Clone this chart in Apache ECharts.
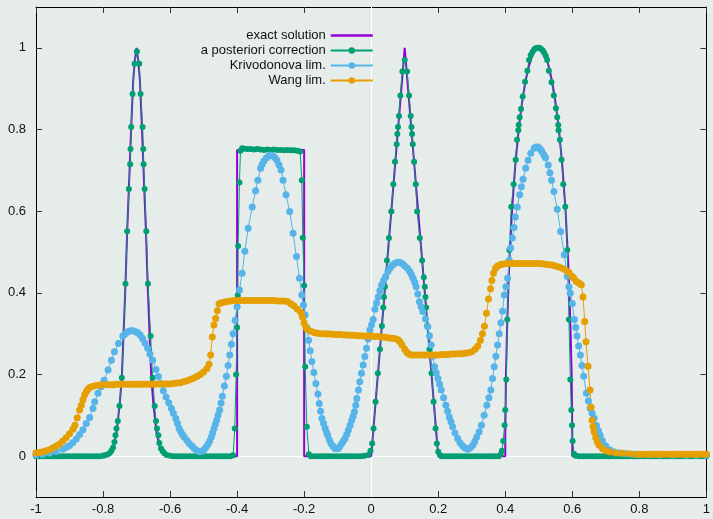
<!DOCTYPE html>
<html>
<head>
<meta charset="utf-8">
<title>chart</title>
<script src="https://cdn.jsdelivr.net/npm/echarts@6/dist/echarts.min.js"></script>
<style>
  html, body { margin: 0; padding: 0; background: #e5ecea; }
  .chart { width: 713px; height: 519px; }
</style>
</head>
<body>
<div class="chart"></div>
<script>
var seriesNames = ["exact solution", "a posteriori correction", "Krivodonova lim.", "Wang lim."];
var xTicks = [-1, -0.8, -0.6, -0.4, -0.2, 0, 0.2, 0.4, 0.6, 0.8, 1];
var yTicks = [0, 0.2, 0.4, 0.6, 0.8, 1];

// exact solution
var exact = [
  [-1, 0], [-0.8, 0], [-0.78, 0.007], [-0.77, 0.021], [-0.76, 0.055], [-0.75, 0.13], [-0.744, 0.192],
  [-0.733, 0.422], [-0.728, 0.551], [-0.723, 0.654], [-0.716, 0.806], [-0.71, 0.92], [-0.705, 0.97],
  [-0.7, 1.0], [-0.695, 0.97], [-0.69, 0.92], [-0.684, 0.806], [-0.677, 0.654], [-0.672, 0.551],
  [-0.667, 0.422], [-0.656, 0.192], [-0.65, 0.13], [-0.64, 0.055], [-0.63, 0.021], [-0.62, 0.007],
  [-0.6, 0], [-0.4, 0], [-0.4, 0.75], [-0.2, 0.75], [-0.2, 0], [0, 0], [0.1, 1], [0.2, 0], [0.4, 0],
  [0.4, 0.05], [0.402, 0.2], [0.405, 0.3], [0.41, 0.436], [0.42, 0.6], [0.43, 0.714], [0.44, 0.8],
  [0.45, 0.866], [0.46, 0.917], [0.47, 0.954], [0.48, 0.98], [0.49, 0.995], [0.5, 1.0], [0.51, 0.995],
  [0.52, 0.98], [0.53, 0.954], [0.54, 0.917], [0.55, 0.866], [0.56, 0.8], [0.57, 0.714], [0.58, 0.6],
  [0.59, 0.436], [0.595, 0.3], [0.598, 0.2], [0.6, 0.05], [0.6, 0], [1, 0]
];

// a posteriori correction
var posteriori = [
  [-1, 0], [-0.99, 0], [-0.98, 0], [-0.97, 0], [-0.96, 0], [-0.95, 0], [-0.94, 0], [-0.93, 0], [-0.92, 0],
  [-0.91, 0], [-0.9, 0], [-0.89, 0], [-0.88, 0], [-0.87, 0], [-0.86, 0], [-0.85, 0], [-0.84, 0], [-0.83, 0],
  [-0.82, 0], [-0.81, 0], [-0.8, 0.001], [-0.795, 0.002], [-0.787, 0.004], [-0.78, 0.008], [-0.775, 0.013],
  [-0.77, 0.021], [-0.766, 0.035], [-0.763, 0.051], [-0.76, 0.068], [-0.756, 0.086], [-0.751, 0.123],
  [-0.744, 0.192], [-0.733, 0.422], [-0.728, 0.551], [-0.723, 0.654], [-0.719, 0.715], [-0.718, 0.752],
  [-0.716, 0.806], [-0.712, 0.887], [-0.706, 0.961], [-0.699, 0.991], [-0.692, 0.961], [-0.688, 0.887],
  [-0.682, 0.806], [-0.68, 0.752], [-0.679, 0.715], [-0.676, 0.654], [-0.671, 0.551], [-0.666, 0.422],
  [-0.658, 0.294], [-0.652, 0.192], [-0.646, 0.123], [-0.642, 0.086], [-0.639, 0.068], [-0.635, 0.051],
  [-0.632, 0.032], [-0.627, 0.019], [-0.622, 0.012], [-0.617, 0.007], [-0.61, 0.003], [-0.6, 0.001],
  [-0.59, 0], [-0.58, 0], [-0.57, 0], [-0.56, 0], [-0.55, 0], [-0.54, 0], [-0.53, 0], [-0.52, 0],
  [-0.51, 0], [-0.5, 0], [-0.49, 0], [-0.48, 0], [-0.47, 0], [-0.46, 0], [-0.45, 0], [-0.44, 0],
  [-0.43, 0], [-0.42, 0], [-0.412, 0.002], [-0.407, 0.068], [-0.403, 0.2], [-0.4, 0.315], [-0.398, 0.394],
  [-0.397, 0.515], [-0.393, 0.67], [-0.39, 0.748], [-0.385, 0.754], [-0.38, 0.753], [-0.37, 0.752],
  [-0.36, 0.752], [-0.35, 0.751], [-0.34, 0.752], [-0.33, 0.751], [-0.32, 0.75], [-0.31, 0.751],
  [-0.3, 0.75], [-0.29, 0.751], [-0.28, 0.75], [-0.27, 0.75], [-0.26, 0.749], [-0.25, 0.75],
  [-0.24, 0.749], [-0.23, 0.749], [-0.22, 0.748], [-0.212, 0.746], [-0.207, 0.676], [-0.204, 0.535],
  [-0.2, 0.418], [-0.197, 0.219], [-0.192, 0.072], [-0.186, 0.005], [-0.18, 0], [-0.17, 0], [-0.16, 0],
  [-0.15, 0], [-0.14, 0], [-0.13, 0], [-0.12, 0], [-0.11, 0], [-0.1, 0], [-0.09, 0], [-0.08, 0],
  [-0.07, 0], [-0.06, 0], [-0.05, 0], [-0.04, 0], [-0.03, 0], [-0.02, 0.001], [-0.009, 0.003],
  [-0.002, 0.013], [0.003, 0.031], [0.007, 0.068], [0.013, 0.133], [0.02, 0.203], [0.026, 0.262],
  [0.032, 0.319], [0.036, 0.364], [0.038, 0.39], [0.041, 0.415], [0.043, 0.438], [0.047, 0.479],
  [0.053, 0.534], [0.06, 0.599], [0.066, 0.666], [0.071, 0.721], [0.076, 0.764], [0.078, 0.789],
  [0.08, 0.806], [0.083, 0.833], [0.087, 0.883], [0.093, 0.942], [0.1, 0.97], [0.107, 0.942],
  [0.113, 0.883], [0.118, 0.833], [0.12, 0.806], [0.122, 0.789], [0.124, 0.764], [0.128, 0.721],
  [0.133, 0.666], [0.137, 0.599], [0.145, 0.534], [0.152, 0.479], [0.157, 0.438], [0.16, 0.415],
  [0.162, 0.39], [0.164, 0.364], [0.167, 0.319], [0.174, 0.262], [0.18, 0.203], [0.186, 0.133],
  [0.192, 0.068], [0.196, 0.031], [0.2, 0.011], [0.206, 0.002], [0.21, 0], [0.22, 0], [0.23, 0],
  [0.24, 0], [0.25, 0], [0.26, 0], [0.27, 0], [0.28, 0], [0.29, 0], [0.3, 0], [0.31, 0], [0.32, 0],
  [0.33, 0], [0.34, 0], [0.35, 0], [0.36, 0], [0.37, 0], [0.38, 0], [0.386, 0.004], [0.39, 0.013],
  [0.394, 0.037], [0.398, 0.076], [0.4, 0.113], [0.403, 0.188], [0.406, 0.335], [0.412, 0.505],
  [0.418, 0.611], [0.425, 0.666], [0.431, 0.726], [0.435, 0.775], [0.439, 0.798], [0.44, 0.811],
  [0.443, 0.83], [0.447, 0.85], [0.452, 0.881], [0.459, 0.917], [0.466, 0.944], [0.471, 0.97],
  [0.476, 0.982], [0.481, 0.99], [0.486, 0.996], [0.491, 0.999], [0.496, 1.0], [0.501, 1.0],
  [0.506, 0.998], [0.511, 0.994], [0.516, 0.988], [0.521, 0.98], [0.525, 0.97], [0.53, 0.944],
  [0.538, 0.916], [0.545, 0.883], [0.551, 0.852], [0.555, 0.83], [0.558, 0.811], [0.559, 0.798],
  [0.563, 0.775], [0.568, 0.726], [0.573, 0.666], [0.579, 0.611], [0.585, 0.505], [0.59, 0.335],
  [0.594, 0.188], [0.597, 0.113], [0.599, 0.076], [0.601, 0.037], [0.605, 0.006], [0.61, 0.001],
  [0.62, 0], [0.63, 0], [0.64, 0], [0.65, 0], [0.66, 0], [0.67, 0], [0.68, 0], [0.69, 0], [0.7, 0],
  [0.71, 0], [0.72, 0], [0.73, 0], [0.74, 0], [0.75, 0], [0.76, 0], [0.77, 0], [0.78, 0], [0.79, 0],
  [0.8, 0], [0.81, 0], [0.82, 0], [0.83, 0], [0.84, 0], [0.85, 0], [0.86, 0], [0.87, 0], [0.88, 0],
  [0.89, 0], [0.9, 0], [0.91, 0], [0.92, 0], [0.93, 0], [0.94, 0], [0.95, 0], [0.96, 0], [0.97, 0],
  [0.98, 0], [0.99, 0], [1, 0]
];

// Krivodonova limiter
var krivodonova = [
  [-1, 0.003], [-0.98, 0.004], [-0.96, 0.007], [-0.94, 0.011], [-0.92, 0.017], [-0.91, 0.021],
  [-0.9, 0.026], [-0.89, 0.033], [-0.88, 0.042], [-0.87, 0.053], [-0.86, 0.065], [-0.85, 0.08],
  [-0.84, 0.095], [-0.83, 0.117], [-0.825, 0.133], [-0.815, 0.154], [-0.806, 0.17], [-0.797, 0.186],
  [-0.785, 0.211], [-0.775, 0.235], [-0.766, 0.256], [-0.754, 0.276], [-0.741, 0.294], [-0.733, 0.3],
  [-0.726, 0.305], [-0.718, 0.307], [-0.711, 0.307], [-0.703, 0.305], [-0.696, 0.302], [-0.689, 0.296],
  [-0.682, 0.288], [-0.675, 0.277], [-0.667, 0.264], [-0.66, 0.25], [-0.652, 0.235], [-0.642, 0.212],
  [-0.635, 0.195], [-0.627, 0.178], [-0.62, 0.16], [-0.612, 0.145], [-0.604, 0.131], [-0.596, 0.117],
  [-0.59, 0.105], [-0.583, 0.092], [-0.578, 0.08], [-0.573, 0.068], [-0.568, 0.06], [-0.563, 0.053],
  [-0.558, 0.047], [-0.55, 0.039], [-0.543, 0.031], [-0.535, 0.025], [-0.528, 0.019], [-0.52, 0.014],
  [-0.513, 0.011], [-0.506, 0.012], [-0.499, 0.016], [-0.493, 0.022], [-0.487, 0.029], [-0.482, 0.037],
  [-0.477, 0.047], [-0.473, 0.057], [-0.469, 0.068], [-0.465, 0.078], [-0.461, 0.088], [-0.457, 0.1],
  [-0.452, 0.113], [-0.448, 0.13], [-0.444, 0.147], [-0.438, 0.172], [-0.432, 0.196], [-0.427, 0.222],
  [-0.422, 0.248], [-0.417, 0.274], [-0.412, 0.3], [-0.406, 0.333], [-0.4, 0.366], [-0.393, 0.407],
  [-0.385, 0.448], [-0.377, 0.502], [-0.367, 0.558], [-0.355, 0.61], [-0.345, 0.65], [-0.338, 0.676],
  [-0.33, 0.705], [-0.325, 0.715], [-0.32, 0.723], [-0.313, 0.73], [-0.306, 0.735], [-0.3, 0.737],
  [-0.293, 0.735], [-0.287, 0.731], [-0.281, 0.724], [-0.275, 0.713], [-0.269, 0.701], [-0.263, 0.676],
  [-0.254, 0.64], [-0.243, 0.599], [-0.233, 0.546], [-0.223, 0.489], [-0.214, 0.436], [-0.207, 0.395],
  [-0.202, 0.37], [-0.197, 0.346], [-0.192, 0.315], [-0.187, 0.284], [-0.182, 0.258], [-0.177, 0.232],
  [-0.171, 0.205], [-0.165, 0.178], [-0.159, 0.152], [-0.155, 0.129], [-0.151, 0.11], [-0.147, 0.092],
  [-0.142, 0.08], [-0.137, 0.068], [-0.133, 0.058], [-0.13, 0.051], [-0.125, 0.04], [-0.12, 0.031],
  [-0.114, 0.024], [-0.108, 0.019], [-0.103, 0.018], [-0.098, 0.019], [-0.093, 0.024], [-0.088, 0.031],
  [-0.083, 0.037], [-0.078, 0.043], [-0.073, 0.053], [-0.068, 0.064], [-0.063, 0.076], [-0.058, 0.088],
  [-0.054, 0.098], [-0.05, 0.109], [-0.046, 0.125], [-0.043, 0.141], [-0.038, 0.162], [-0.034, 0.182],
  [-0.029, 0.203], [-0.024, 0.223], [-0.019, 0.244], [-0.014, 0.264], [-0.009, 0.287], [-0.004, 0.309],
  [0.001, 0.322], [0.006, 0.335], [0.011, 0.36], [0.016, 0.375], [0.021, 0.39], [0.026, 0.405],
  [0.031, 0.419], [0.037, 0.43], [0.043, 0.44], [0.05, 0.452], [0.056, 0.46], [0.063, 0.467],
  [0.07, 0.472], [0.078, 0.475], [0.085, 0.475], [0.093, 0.471], [0.1, 0.466], [0.108, 0.46],
  [0.115, 0.452], [0.12, 0.445], [0.125, 0.436], [0.13, 0.426], [0.134, 0.415], [0.139, 0.397],
  [0.144, 0.378], [0.149, 0.366], [0.154, 0.354], [0.162, 0.336], [0.169, 0.317], [0.174, 0.295],
  [0.179, 0.272], [0.184, 0.245], [0.189, 0.219], [0.194, 0.204], [0.199, 0.19], [0.204, 0.176],
  [0.209, 0.162], [0.216, 0.143], [0.223, 0.125], [0.228, 0.11], [0.233, 0.096], [0.238, 0.084],
  [0.243, 0.072], [0.25, 0.057], [0.258, 0.043], [0.265, 0.033], [0.273, 0.025], [0.28, 0.02],
  [0.288, 0.017], [0.295, 0.02], [0.303, 0.027], [0.309, 0.036], [0.315, 0.047], [0.322, 0.06],
  [0.329, 0.076], [0.337, 0.1], [0.345, 0.125], [0.351, 0.143], [0.357, 0.162], [0.362, 0.19],
  [0.367, 0.219], [0.372, 0.245], [0.377, 0.272], [0.382, 0.3], [0.387, 0.327], [0.392, 0.355],
  [0.397, 0.395], [0.402, 0.415], [0.407, 0.436], [0.412, 0.48], [0.416, 0.51], [0.421, 0.534],
  [0.426, 0.56], [0.43, 0.586], [0.436, 0.61], [0.443, 0.64], [0.448, 0.66], [0.453, 0.678],
  [0.461, 0.705], [0.468, 0.725], [0.476, 0.742], [0.486, 0.754], [0.492, 0.757], [0.498, 0.757],
  [0.504, 0.752], [0.509, 0.746], [0.515, 0.738], [0.52, 0.731], [0.528, 0.713], [0.533, 0.694],
  [0.538, 0.676], [0.545, 0.648], [0.555, 0.605], [0.565, 0.55], [0.576, 0.493], [0.585, 0.44],
  [0.59, 0.415], [0.594, 0.399], [0.6, 0.374], [0.606, 0.335], [0.61, 0.315], [0.614, 0.294],
  [0.619, 0.27], [0.624, 0.248], [0.629, 0.222], [0.634, 0.196], [0.642, 0.154], [0.648, 0.135],
  [0.653, 0.118], [0.659, 0.105], [0.665, 0.093], [0.672, 0.075], [0.678, 0.062], [0.683, 0.051],
  [0.69, 0.038], [0.7, 0.025], [0.712, 0.015], [0.725, 0.01], [0.74, 0.008], [0.76, 0.006],
  [0.78, 0.005], [0.8, 0.004], [0.83, 0.004], [0.86, 0.003], [0.9, 0.003], [0.94, 0.002],
  [0.97, 0.002], [1, 0.002]
];

// Wang limiter
var wang = [
  [-1, 0.008], [-0.99, 0.009], [-0.98, 0.011], [-0.97, 0.013], [-0.96, 0.016], [-0.95, 0.02],
  [-0.94, 0.025], [-0.93, 0.03], [-0.92, 0.037], [-0.91, 0.045], [-0.9, 0.055], [-0.89, 0.066],
  [-0.884, 0.076], [-0.877, 0.094], [-0.87, 0.113], [-0.865, 0.125], [-0.86, 0.138], [-0.855, 0.15],
  [-0.85, 0.158], [-0.845, 0.164], [-0.84, 0.168], [-0.83, 0.171], [-0.82, 0.173], [-0.81, 0.174],
  [-0.8, 0.175], [-0.79, 0.175], [-0.78, 0.175], [-0.77, 0.175], [-0.76, 0.176], [-0.75, 0.176],
  [-0.74, 0.176], [-0.73, 0.176], [-0.72, 0.176], [-0.71, 0.176], [-0.7, 0.176], [-0.69, 0.176],
  [-0.68, 0.176], [-0.67, 0.176], [-0.66, 0.176], [-0.65, 0.176], [-0.64, 0.177], [-0.63, 0.177],
  [-0.62, 0.177], [-0.61, 0.177], [-0.6, 0.177], [-0.59, 0.178], [-0.58, 0.179], [-0.57, 0.18],
  [-0.56, 0.182], [-0.55, 0.185], [-0.54, 0.188], [-0.53, 0.191], [-0.52, 0.195], [-0.51, 0.2],
  [-0.5, 0.206], [-0.49, 0.215], [-0.484, 0.225], [-0.479, 0.248], [-0.474, 0.292], [-0.469, 0.321],
  [-0.464, 0.337], [-0.459, 0.356], [-0.454, 0.373], [-0.448, 0.375], [-0.44, 0.377], [-0.43, 0.379],
  [-0.42, 0.38], [-0.41, 0.381], [-0.4, 0.381], [-0.39, 0.381], [-0.38, 0.381], [-0.37, 0.381],
  [-0.36, 0.381], [-0.35, 0.381], [-0.34, 0.381], [-0.33, 0.381], [-0.32, 0.381], [-0.31, 0.381],
  [-0.3, 0.381], [-0.29, 0.381], [-0.28, 0.38], [-0.27, 0.38], [-0.26, 0.38], [-0.25, 0.379],
  [-0.24, 0.373], [-0.23, 0.368], [-0.22, 0.36], [-0.21, 0.352], [-0.205, 0.34], [-0.2, 0.326],
  [-0.195, 0.316], [-0.19, 0.31], [-0.18, 0.306], [-0.17, 0.303], [-0.16, 0.301], [-0.15, 0.3],
  [-0.14, 0.3], [-0.13, 0.299], [-0.12, 0.299], [-0.11, 0.298], [-0.1, 0.298], [-0.09, 0.298],
  [-0.08, 0.297], [-0.07, 0.297], [-0.06, 0.296], [-0.05, 0.296], [-0.04, 0.295], [-0.03, 0.295],
  [-0.02, 0.294], [-0.01, 0.294], [0, 0.294], [0.01, 0.293], [0.02, 0.293], [0.03, 0.292],
  [0.04, 0.291], [0.05, 0.29], [0.06, 0.289], [0.07, 0.288], [0.08, 0.285], [0.086, 0.28],
  [0.092, 0.272], [0.1, 0.262], [0.106, 0.255], [0.112, 0.25], [0.12, 0.248], [0.13, 0.248],
  [0.14, 0.248], [0.15, 0.248], [0.16, 0.248], [0.17, 0.248], [0.18, 0.248], [0.19, 0.248],
  [0.2, 0.248], [0.21, 0.249], [0.22, 0.249], [0.23, 0.249], [0.24, 0.25], [0.25, 0.25],
  [0.26, 0.251], [0.27, 0.251], [0.28, 0.252], [0.29, 0.253], [0.3, 0.256], [0.31, 0.262],
  [0.318, 0.27], [0.326, 0.284], [0.332, 0.3], [0.338, 0.318], [0.344, 0.35], [0.35, 0.385],
  [0.356, 0.41], [0.36, 0.43], [0.365, 0.448], [0.371, 0.46], [0.377, 0.466], [0.385, 0.469],
  [0.39, 0.47], [0.4, 0.471], [0.41, 0.472], [0.42, 0.472], [0.43, 0.472], [0.44, 0.472],
  [0.45, 0.472], [0.46, 0.472], [0.47, 0.472], [0.48, 0.472], [0.49, 0.472], [0.5, 0.472],
  [0.51, 0.471], [0.52, 0.47], [0.53, 0.469], [0.54, 0.468], [0.55, 0.466], [0.56, 0.463],
  [0.57, 0.46], [0.58, 0.456], [0.59, 0.45], [0.6, 0.44], [0.605, 0.436], [0.612, 0.428],
  [0.62, 0.424], [0.627, 0.42], [0.632, 0.39], [0.637, 0.33], [0.641, 0.28], [0.647, 0.22],
  [0.653, 0.162], [0.656, 0.12], [0.659, 0.088], [0.662, 0.072], [0.665, 0.059], [0.67, 0.045],
  [0.675, 0.035], [0.68, 0.027], [0.69, 0.018], [0.7, 0.013], [0.712, 0.01], [0.73, 0.008],
  [0.75, 0.007], [0.77, 0.006], [0.79, 0.005], [0.8, 0.005], [0.81, 0.005], [0.82, 0.005],
  [0.83, 0.005], [0.84, 0.005], [0.85, 0.005], [0.86, 0.005], [0.87, 0.005], [0.88, 0.005],
  [0.89, 0.005], [0.9, 0.005], [0.91, 0.005], [0.92, 0.005], [0.93, 0.005], [0.94, 0.005],
  [0.95, 0.005], [0.96, 0.005], [0.97, 0.005], [0.98, 0.005], [0.99, 0.005], [1, 0.005]
];

var colors = ["#9400d3", "#009e73", "#56b4e9", "#e69f00"];
var font = "'Liberation Sans', Arial, sans-serif";

var chart = echarts.init(document.querySelector(".chart"));

function xAxisOf(pos, showLabel) {
  return {
    type: "value",
    position: pos,
    min: -1,
    max: 1,
    interval: 0.2,
    axisLine: { show: true, onZero: false, lineStyle: { color: "#000", width: 1 } },
    axisTick: { show: true, inside: true, length: 6, lineStyle: { color: "#333" } },
    axisLabel: { show: showLabel, color: "#111", fontSize: 13, fontFamily: font, margin: 6 },
    splitLine: { show: false }
  };
}

function yAxisOf(pos, showLabel) {
  return {
    type: "value",
    position: pos,
    min: -0.1,
    max: 1.1,
    axisLine: { show: true, onZero: false, lineStyle: { color: "#000", width: 1 } },
    axisTick: { show: true, inside: true, length: 6, customValues: yTicks, lineStyle: { color: "#333" } },
    axisLabel: { show: showLabel, customValues: yTicks, color: "#111", fontSize: 13, fontFamily: font, margin: 10 },
    splitLine: { show: false }
  };
}

function pointSeries(i, data, size) {
  return {
    name: seriesNames[i],
    type: "line",
    data: data,
    symbol: "circle",
    symbolSize: size,
    showAllSymbol: true,
    itemStyle: { color: colors[i] },
    lineStyle: { color: colors[i], width: 1 },
    emphasis: { disabled: true },
    animation: false
  };
}

var option = {
  backgroundColor: "#e5ecea",
  animation: false,
  grid: { left: 36, right: 3, top: 7, bottom: 22, containLabel: false },
  legend: {
    orient: "vertical",
    align: "right",
    right: 339,
    top: 28,
    padding: 0,
    itemGap: 0,
    itemWidth: 42,
    itemHeight: 8,
    textStyle: { color: "#111", fontSize: 13, fontFamily: font, lineHeight: 15 },
    data: [
      { name: seriesNames[0], itemStyle: { opacity: 0 }, lineStyle: { width: 2.5 } },
      { name: seriesNames[1], lineStyle: { width: 2 } },
      { name: seriesNames[2], lineStyle: { width: 2 } },
      { name: seriesNames[3], lineStyle: { width: 2 } }
    ]
  },
  xAxis: [xAxisOf("bottom", true), xAxisOf("top", false)],
  yAxis: [yAxisOf("left", true), yAxisOf("right", false)],
  series: [
    {
      name: seriesNames[0],
      type: "line",
      data: exact,
      symbol: "none",
      lineStyle: { color: colors[0], width: 2 },
      itemStyle: { color: colors[0] },
      emphasis: { disabled: true },
      // white zero axes
      markLine: {
        silent: true,
        z: 1,
        symbol: ["none", "none"],
        label: { show: false },
        lineStyle: { color: "#ffffff", width: 1, type: "solid" },
        data: [{ yAxis: 0 }, { xAxis: 0 }]
      }
    },
    pointSeries(1, posteriori, 6),
    pointSeries(2, krivodonova, 7),
    pointSeries(3, wang, 7)
  ]
};

chart.setOption(option);
</script>
</body>
</html>
